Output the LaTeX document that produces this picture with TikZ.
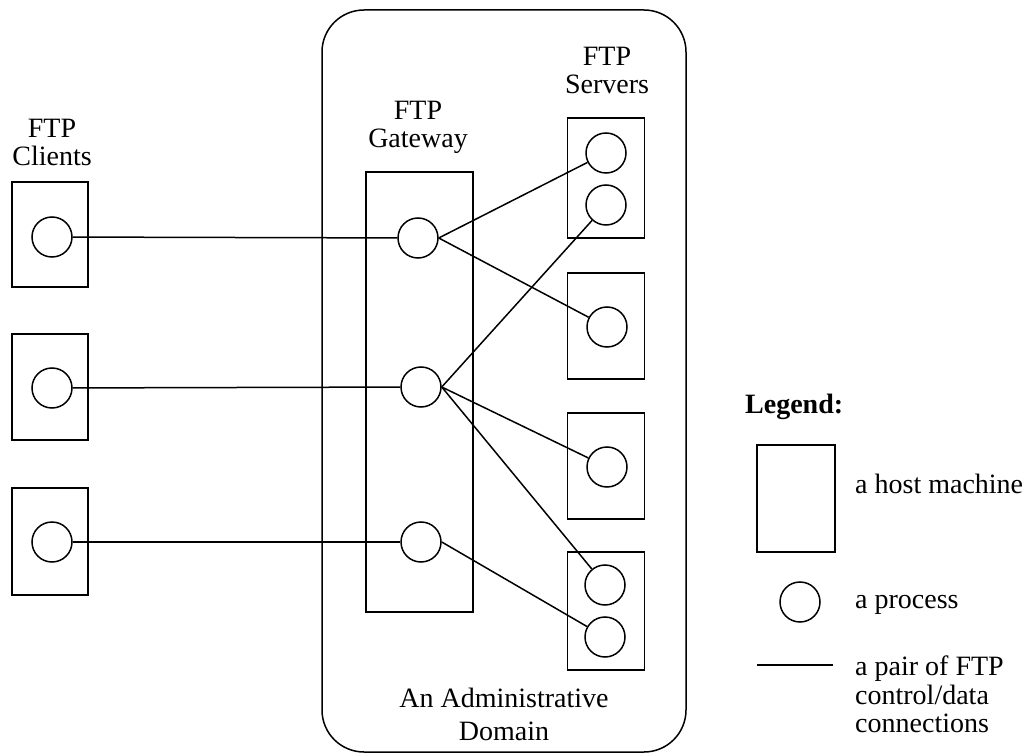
\documentclass[tikz,border=0pt]{standalone}
\usepackage{fontspec}
\setmainfont{Liberation Serif}
\begin{document}
\begin{tikzpicture}[x=1pt,y=-1pt,
  every node/.style={font=\fontsize{28}{28}\selectfont},
  hostbox/.style={draw, line width=1.5pt, rectangle, inner sep=0pt},
  proc/.style={draw, line width=1.5pt, circle, minimum size=40pt, inner sep=0pt},
  conn/.style={line width=1.5pt},
  lbl/.style={align=center, inner sep=0pt}]
\useasboundingbox (0,0) rectangle (1034,754);
% administrative domain
\draw[line width=1.5pt, rounded corners=42pt] (322,10) rectangle (686,752);
% clients
\node[hostbox, minimum width=76pt, minimum height=105pt] (cb1) at (50,234.5) {};
\node[hostbox, minimum width=76pt, minimum height=106pt] (cb2) at (50,387) {};
\node[hostbox, minimum width=76pt, minimum height=107pt] (cb3) at (50,541.5) {};
\node[proc] (c1) at (52,237) {};
\node[proc] (c2) at (52,388) {};
\node[proc] (c3) at (52,542) {};
% gateway
\node[hostbox, minimum width=107pt, minimum height=440pt] (gb) at (419.5,392) {};
\node[proc] (g1) at (418,238) {};
\node[proc] (g2) at (421,387) {};
\node[proc] (g3) at (421,542) {};
% servers
\node[hostbox, minimum width=77pt, minimum height=120pt] (sb1) at (606,178) {};
\node[hostbox, minimum width=77pt, minimum height=106pt] (sb2) at (606,326) {};
\node[hostbox, minimum width=77pt, minimum height=106pt] (sb3) at (606,466) {};
\node[hostbox, minimum width=77pt, minimum height=118pt] (sb4) at (606,611) {};
\node[proc] (s1a) at (606,153) {};
\node[proc] (s1b) at (606,205) {};
\node[proc] (s2) at (607,327) {};
\node[proc] (s3) at (607,467) {};
\node[proc] (s4a) at (605,585) {};
\node[proc] (s4b) at (605,637) {};
% connections
\draw[conn] (c1) -- (g1);
\draw[conn] (c2) -- (g2);
\draw[conn] (c3) -- (g3);
\draw[conn] (g1.east) -- (s1a);
\draw[conn] (g1.east) -- (s2);
\draw[conn] (g2.east) -- (s1b);
\draw[conn] (g2.east) -- (s3);
\draw[conn] (g2.east) -- (s4a);
\draw[conn] (g3.east) -- (s4b);
% labels
\node[lbl] (lc) at (52,142) {FTP\\Clients};
\node[lbl] (lg) at (418,127) {FTP\\Gateway};
\node[lbl] (ls) at (607,70) {FTP\\Servers};
\node[lbl, font=\fontsize{28}{33}\selectfont] (ld) at (504,714) {An Administrative\\Domain};
% legend
\node[lbl, anchor=base west, font=\fontsize{28}{28}\selectfont\bfseries] (lt) at (745,413) {Legend:};
\node[hostbox, minimum width=78pt, minimum height=107pt] (lb) at (796,498.5) {};
\node[lbl, anchor=base west] (lbt) at (855,493) {a host machine};
\node[proc] (lp) at (800,602) {};
\node[lbl, anchor=base west] (lpt) at (855,608) {a process};
\coordinate (la) at (757,665);
\coordinate (lz) at (833,665);
\draw[conn] (la) -- (lz);
\node[lbl, anchor=north west, align=left, font=\fontsize{28}{28.5}\selectfont] (llt) at (855,656) {a pair of FTP\\control/data\\connections};
\end{tikzpicture}
\end{document}
